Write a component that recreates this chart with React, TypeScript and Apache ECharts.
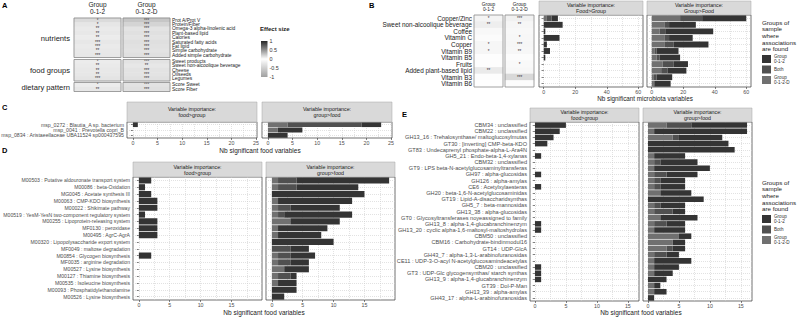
import React, { useEffect, useRef } from "react";
import * as echarts from "echarts";

const FONT = "'Liberation Sans', Arial, Helvetica, sans-serif";

// ---------- Panel A: effect sizes (nutrients / food groups / dietary pattern)
const groupHeaders = ["Group\n0-1-2", "Group\n0-1-2-D"];

const nutrientRows = [
  "Prot A/Prot V",
  "Protein/Fiber",
  "Omega-3 alpha-linolenic acid",
  "Plant-based lipid",
  "Calories",
  "Saturated fatty acids",
  "Fat lipid",
  "Simple carbohydrate",
  "Added simple carbohydrate",
];
const nutrientEffect012 = [-0.38, -0.26, -0.22, -0.24, -0.2, -0.25, -0.22, -0.24, -0.25];
const nutrientEffect012D = [-0.6, -0.45, -0.3, -0.33, -0.3, -0.34, -0.32, -0.3, -0.33];
const nutrientStars012 = ["*", "*", "**", "**", "**", "***", "***", "**", "***"];
const nutrientStars012D = ["***", "***", "***", "***", "***", "***", "***", "***", "***"];

const foodGroupRows = ["Sweet products", "Sweet non-alcoolique beverage", "Cheese", "Oilseeds", "Legumes"];
const foodGroupEffect012 = [-0.2, -0.22, -0.24, -0.25, -0.28];
const foodGroupEffect012D = [-0.3, -0.25, -0.3, -0.3, -0.33];
const foodGroupStars012 = ["*", "**", "**", "**", "***"];
const foodGroupStars012D = ["***", "**", "***", "***", "***"];

const dietRows = ["Score Sweet", "Score Fiber"];
const dietEffect012 = [-0.2, -0.25];
const dietEffect012D = [-0.3, -0.33];
const dietStars012 = ["*", "**"];
const dietStars012D = ["***", "***"];

const effectTicks = [1, 0.5, 0, -0.5, -1];
const effectColors = ["#a0a0a0", "#ffffff", "#262626"]; // -1, 0, 1

// ---------- Panel B: microbiota associations
const bRows = [
  "Copper/Zinc",
  "Sweet non-alcoolique beverage",
  "Coffee",
  "Vitamin C",
  "Copper",
  "Vitamin B9",
  "Vitamin B5",
  "Fruits",
  "Added plant-based lipid",
  "Vitamin B3",
  "Vitamin B6",
];
const bEffect012 = [-0.12, -0.18, -0.07, -0.04, -0.1, -0.1, -0.02, -0.02, -0.22, -0.02, -0.01];
const bEffect012D = [-0.15, -0.1, -0.07, -0.08, -0.1, -0.08, -0.03, -0.06, -0.08, -0.4, -0.03];
const bStars012 = ["*", "**", "", "", "*", "*", "", "", "**", "", ""];
const bStars012D = ["***", "**", "", "*", "***", "**", "", "*", "", "***", ""];

const bFoodGroup_D = [2, 0, 0, 0, 0, 0, 0, 0, 0, 0, 0];
const bFoodGroup_Both = [3, 0, 0, 0, 0, 0, 0, 0, 0, 0, 0];
const bFoodGroup_012 = [4, 12, 1, 10, 2, 4, 1, 0, 0, 0, 0];
const bGroupFood_D = [18, 8, 5, 8, 8, 2, 3, 7, 6, 1, 1];
const bGroupFood_Both = [14, 3, 4, 3, 6, 1, 2, 7, 4, 2, 1];
const bGroupFood_012 = [28, 17, 30, 15, 22, 14, 13, 9, 12, 10, 10];

const microbiotaTicks = [0, 20, 40, 60];
const microbiotaMinor = [10, 30, 50];

// ---------- Panel C: species
const cRows = [
  "msp_0272 : Blautia_A sp. bacterium",
  "msp_0041 : Prevotella copri_B",
  "msp_0834 : Aristaeellaceae UBA11524 sp000437595",
];
const cFoodGroup_D = [0, 0, 0];
const cFoodGroup_Both = [0, 0, 0];
const cFoodGroup_012 = [1, 0, 0];
const cGroupFood_D = [4, 2, 0];
const cGroupFood_Both = [15, 0, 0];
const cGroupFood_012 = [4, 5, 4];
const cTicks = [0, 5, 10, 15, 20, 25];
const cMinor = [2.5, 7.5, 12.5, 17.5, 22.5];

// ---------- Panel D: modules
const dRows = [
  "M00503 : Putative aldouronate transport system",
  "M00086 : beta-Oxidation",
  "MG0045 : Acetate synthesis III",
  "M00063 : CMP-KDO biosynthesis",
  "M00022 : Shikimate pathway",
  "M00519 : YesM-YesN two-component regulatory system",
  "M00255 : Lipoprotein-releasing system",
  "MF0130 : peroxidase",
  "M00495 : AgrC-AgrA",
  "M00320 : Lipopolysaccharide export system",
  "MF0049 : maltose degradation",
  "M00854 : Glycogen biosynthesis",
  "MF0035 : arginine degradation",
  "M00527 : Lysine biosynthesis",
  "M00127 : Thiamine biosynthesis",
  "M00535 : Isoleucine biosynthesis",
  "M00093 : Phosphatidylethanolamine",
  "M00526 : Lysine biosynthesis",
];
const dFoodGroup_D = [0, 0, 0, 0, 0, 0, 0, 0, 0, 0, 0, 0, 0, 0, 0, 0, 0, 0];
const dFoodGroup_Both = [0, 0, 0, 0, 0, 0, 0, 0, 0, 0, 0, 0, 0, 0, 0, 0, 0, 0];
const dFoodGroup_012 = [2, 1, 2, 3, 3, 1, 3, 3, 3, 0, 0, 2, 0, 0, 0, 0, 0, 0];
const dGroupFood_D = [1, 1, 0, 1, 1, 1, 3, 1, 1, 0, 0, 1, 1, 2, 1, 1, 0, 0];
const dGroupFood_Both = [3, 3, 0, 0, 2, 1, 0, 0, 0, 0, 3, 2, 2, 0, 2, 0, 0, 0];
const dGroupFood_012 = [15, 10, 15, 12, 8, 11, 8, 8, 7, 10, 3, 4, 3, 4, 1, 3, 4, 2];
const dTicks = [0, 5, 10, 15];
const dMinor = [2.5, 7.5, 12.5, 17.5];

// ---------- Panel E: CAZymes
const eRows = [
  "CBM34 : unclassified",
  "CBM22 : unclassified",
  "GH13_16 : Trehalosynthase/ maltoglucosylmutas",
  "GT30 : [inverting] CMP-beta-KDO",
  "GT83 : Undecaprenyl phosphate-alpha-L-Ara4N",
  "GH5_21 : Endo-beta-1,4-xylanas",
  "CBM32 : unclassified",
  "GT9 : LPS beta-N-acetylglucosaminyltransferas",
  "GH97 : alpha-glucosidas",
  "GH126 : alpha-amylas",
  "CE6 : Acetylxylaesteras",
  "GH20 : beta-1,6-N-acetylglucosaminidas",
  "GT19 : Lipid-A-disaccharidsynthas",
  "GH5_7 : beta-mannosidas",
  "GH13_38 : alpha-glucosidas",
  "GT0 : Glycosyltransferases noyeassigned to family",
  "GH13_8 : alpha-1,4-glucabranchinenzym",
  "GH13_20 : cyclic alpha-1,6-maltosyl-maltoshydrolas",
  "CBM50 : unclassified",
  "CBM16 : Carbohydrate-bindinmodul16",
  "GT14 : UDP-GlcA",
  "GH43_7 : alpha-1,3-L-arabinofuranosidas",
  "CE11 : UDP-3-O-acyl N-acetylglucosamindeacetylas",
  "CBM20 : unclassified",
  "GT3 : UDP-Glc glycogensynthas/ starch synthas",
  "GH13_9 : alpha-1,4-glucabranchinenzym",
  "GT39 : Dol-P-Man",
  "GH13_39 : alpha-amylas",
  "GH43_17 : alpha-L-arabinofuranosidas",
];
const eFoodGroup_D = new Array(29).fill(0);
const eFoodGroup_Both = new Array(29).fill(0);
const eFoodGroup_012 = [5, 4, 3, 2, 0, 1, 0, 0, 1, 0, 1, 0, 0, 0, 0, 0, 1, 1, 0, 0, 0, 0, 0, 1, 1, 1, 0, 0, 0];
const eGroupFood_D = [3, 1, 4, 0, 0, 1, 1, 1, 1, 1, 1, 2, 0, 1, 1, 2, 1, 1, 5, 4, 3, 1, 1, 1, 1, 0, 1, 1, 0];
const eGroupFood_Both = [4, 0, 1, 0, 0, 0, 1, 0, 2, 1, 1, 0, 0, 1, 3, 0, 2, 0, 0, 0, 1, 2, 0, 0, 0, 0, 0, 0, 0];
const eGroupFood_012 = [9, 15, 7, 13, 14, 5, 6, 9, 5, 4, 4, 5, 9, 4, 2, 6, 3, 5, 2, 2, 2, 2, 6, 4, 3, 3, 1, 2, 1];
const eTicks = [0, 5, 10, 15];
const eMinor = [2.5, 7.5, 12.5];

// stacking order from zero outward
const segNames = ["Group 0-1-2-D", "Both", "Group 0-1-2"];
const segColors = ["#707070", "#505050", "#343434"];
const legendOrder = ["Group 0-1-2", "Both", "Group 0-1-2-D"];

type Rect = { left: number; top: number; width: number; height: number };

function buildOption() {
  const grid: any[] = [];
  const xAxis: any[] = [];
  const yAxis: any[] = [];
  const series: any[] = [];
  const graphic: any[] = [];
  const heatSeries: number[] = [];

  const gridLine = { color: "#cfcfcf", width: 0.6, type: [1, 1] };

  const addGrid = (r: Rect, border: boolean) => {
    grid.push({
      left: r.left,
      top: r.top,
      width: r.width,
      height: r.height,
      show: border,
      borderColor: "#333",
      borderWidth: 0.7,
      backgroundColor: "#fff",
      containLabel: false,
      outerBoundsMode: "none",
    });
    return grid.length - 1;
  };

  const text = (x: number, y: number, t: string, size: number, extra: any = {}) => {
    graphic.push({
      type: "text",
      x,
      y,
      silent: true,
      z: 120,
      style: {
        text: t,
        fontSize: size,
        fontFamily: FONT,
        fill: "#1a1a1a",
        align: "left",
        verticalAlign: "middle",
        ...extra,
      },
    });
  };

  const addHeat = (
    r: Rect,
    rows: string[],
    effects: number[],
    stars: string[],
    header: string | null,
    labelSide: "left" | "right" | null,
    headerFont: number,
    labelFont: number
  ) => {
    const gi = addGrid(r, false);
    xAxis.push({
      type: "category",
      gridIndex: gi,
      data: [header ?? ""],
      position: "top",
      axisLine: { show: false },
      axisTick: { show: false },
      splitLine: { show: false },
      axisLabel: {
        show: !!header,
        interval: 0,
        fontSize: headerFont,
        lineHeight: headerFont + 0.5,
        margin: 3,
        color: "#1a1a1a",
        fontFamily: FONT,
      },
    });
    const xi = xAxis.length - 1;
    yAxis.push({
      type: "category",
      gridIndex: gi,
      data: rows,
      inverse: true,
      position: labelSide ?? "left",
      axisLine: { show: false },
      axisTick: { show: false },
      splitLine: { show: false },
      axisLabel: {
        show: !!labelSide,
        interval: 0,
        fontSize: labelFont,
        lineHeight: labelFont,
        margin: 2,
        color: "#1a1a1a",
        fontFamily: FONT,
      },
    });
    const yi = yAxis.length - 1;
    series.push({
      type: "heatmap",
      xAxisIndex: xi,
      yAxisIndex: yi,
      data: effects.map((v, i) => [0, i, v]),
      silent: true,
      emphasis: { disabled: true },
      label: {
        show: true,
        formatter: (p: any) => stars[p.dataIndex],
        fontSize: 4.5,
        color: "#333",
        fontFamily: FONT,
      },
    });
    heatSeries.push(series.length - 1);
    graphic.push({
      type: "rect",
      silent: true,
      z: 110,
      shape: { x: r.left, y: r.top, width: r.width, height: r.height },
      style: { fill: "none", stroke: "#8a8a8a", lineWidth: 0.8 },
    });
  };

  const addBarFacet = (
    r: Rect,
    rows: string[],
    segs: number[][],
    range: [number, number],
    majors: number[],
    minors: number[],
    firstPanel: boolean,
    showLabels: boolean,
    labelFont: number,
    strip: string,
    stripTop: number
  ) => {
    const gi = addGrid(r, true);
    xAxis.push({
      type: "value",
      gridIndex: gi,
      min: range[0],
      max: range[1],
      position: "bottom",
      axisLine: { show: false },
      axisTick: { show: true, length: 2, customValues: majors, lineStyle: { color: "#333", width: 0.6 } },
      axisLabel: { customValues: majors, fontSize: 5.3, color: "#4d4d4d", margin: 2.5, fontFamily: FONT },
      splitLine: { show: true, lineStyle: gridLine },
    });
    const xi = xAxis.length - 1;
    xAxis.push({
      type: "value",
      gridIndex: gi,
      min: range[0],
      max: range[1],
      position: "top",
      axisLine: { show: false },
      axisTick: { show: false, customValues: minors },
      axisLabel: { show: false },
      splitLine: { show: true, lineStyle: gridLine },
    });
    yAxis.push({
      type: "category",
      gridIndex: gi,
      data: rows,
      inverse: true,
      axisLine: { show: false },
      axisTick: {
        show: firstPanel,
        interval: 0,
        length: 2,
        alignWithLabel: true,
        lineStyle: { color: "#333", width: 0.6 },
      },
      axisLabel: {
        show: showLabels,
        interval: 0,
        fontSize: labelFont,
        color: "#4d4d4d",
        margin: 3,
        fontFamily: FONT,
      },
      splitLine: { show: true, interval: 0, alignWithLabel: true, lineStyle: gridLine },
    });
    const yi = yAxis.length - 1;
    segs.forEach((data, k) => {
      series.push({
        type: "bar",
        name: segNames[k],
        xAxisIndex: xi,
        yAxisIndex: yi,
        stack: "facet" + gi,
        data,
        barCategoryGap: "10%",
        silent: true,
        itemStyle: { color: segColors[k] },
      });
    });
    graphic.push({
      type: "rect",
      silent: true,
      z: 100,
      shape: { x: r.left, y: stripTop, width: r.width, height: r.top - stripTop },
      style: { fill: "#d9d9d9", stroke: "#a6a6a6", lineWidth: 0.5 },
    });
    text(r.left + r.width / 2, (stripTop + r.top) / 2, strip, 5.3, {
      align: "center",
      lineHeight: 6,
      fill: "#1a1a1a",
    });
  };

  // ---- panel letters
  const letter = { fontWeight: "bold", fill: "#000" };
  text(2, 5, "A", 7.5, letter);
  text(369, 5, "B", 7.5, letter);
  text(2, 107, "C", 7.5, letter);
  text(2, 150, "D", 7.5, letter);
  text(402, 114, "E", 7.5, letter);

  // ---- A
  const aCol1 = 74;
  const aCol2 = 123;
  const aW = 47;
  const aLab = 4.9;
  addHeat({ left: aCol1, top: 18, width: aW, height: 39.5 }, nutrientRows, nutrientEffect012, nutrientStars012, groupHeaders[0], null, 6.5, aLab);
  addHeat({ left: aCol2, top: 18, width: aW, height: 39.5 }, nutrientRows, nutrientEffect012D, nutrientStars012D, groupHeaders[1], "right", 6.5, aLab);
  addHeat({ left: aCol1, top: 59.5, width: aW, height: 21.5 }, foodGroupRows, foodGroupEffect012, foodGroupStars012, null, null, 6.5, aLab);
  addHeat({ left: aCol2, top: 59.5, width: aW, height: 21.5 }, foodGroupRows, foodGroupEffect012D, foodGroupStars012D, null, "right", 6.5, aLab);
  addHeat({ left: aCol1, top: 82.5, width: aW, height: 9 }, dietRows, dietEffect012, dietStars012, null, null, 6.5, aLab);
  addHeat({ left: aCol2, top: 82.5, width: aW, height: 9 }, dietRows, dietEffect012D, dietStars012D, null, "right", 6.5, aLab);
  text(70, 38, "nutrients", 7.6, { align: "right", fill: "#222" });
  text(70, 70.5, "food groups", 7.6, { align: "right", fill: "#222" });
  text(70, 87, "dietary pattern", 7.6, { align: "right", fill: "#222" });

  // effect size key
  const keyTop = 41;
  const keyH = 36;
  text(260, 29, "Effect size", 6, { fontWeight: "bold" });
  graphic.push({
    type: "rect",
    silent: true,
    shape: { x: 261, y: keyTop, width: 6.5, height: keyH },
    style: {
      fill: new echarts.graphic.LinearGradient(0, 0, 0, 1, [
        { offset: 0, color: effectColors[2] },
        { offset: 0.5, color: effectColors[1] },
        { offset: 1, color: effectColors[0] },
      ]),
    },
  });
  effectTicks.forEach((v) => {
    const y = keyTop + ((1 - v) / 2) * keyH;
    text(269.5, y, String(v), 5.4, { fill: "#333" });
  });

  // ---- B
  addHeat({ left: 474, top: 15, width: 29, height: 72 }, bRows, bEffect012, bStars012, groupHeaders[0], "left", 4.8, 6.4);
  addHeat({ left: 505, top: 15, width: 29, height: 72 }, bRows, bEffect012D, bStars012D, groupHeaders[1], null, 4.8, 6.4);
  addBarFacet({ left: 539, top: 15, width: 104, height: 72 }, bRows,
    [bFoodGroup_D, bFoodGroup_Both, bFoodGroup_012], [-3, 63], microbiotaTicks, microbiotaMinor, true, false, 5,
    "Variable importance:\nFood>Group", 1);
  addBarFacet({ left: 647, top: 15, width: 104, height: 72 }, bRows,
    [bGroupFood_D, bGroupFood_Both, bGroupFood_012], [-3, 63], microbiotaTicks, microbiotaMinor, false, false, 5,
    "Variable importance:\nGroup>Food", 1);
  text(645, 98.5, "Nb significant microbiota variables", 6.3, { align: "center", fill: "#1a1a1a" });

  // ---- C
  addBarFacet({ left: 127, top: 122, width: 130, height: 16 }, cRows,
    [cFoodGroup_D, cFoodGroup_Both, cFoodGroup_012], [-1.2, 25.2], cTicks, cMinor, true, true, 5.2,
    "Variable importance:\nfood>group", 102);
  addBarFacet({ left: 262, top: 122, width: 130, height: 16 }, cRows,
    [cGroupFood_D, cGroupFood_Both, cGroupFood_012], [-1.2, 25.2], cTicks, cMinor, false, false, 5.2,
    "Variable importance:\ngroup>food", 102);
  text(260, 150, "Nb significant food variables", 6.5, { align: "center" });

  // ---- D
  addBarFacet({ left: 133, top: 177, width: 129, height: 123 }, dRows,
    [dFoodGroup_D, dFoodGroup_Both, dFoodGroup_012], [-0.95, 19.95], dTicks, dMinor, true, true, 5.1,
    "Variable importance:\nfood>group", 162);
  addBarFacet({ left: 266, top: 177, width: 129, height: 123 }, dRows,
    [dGroupFood_D, dGroupFood_Both, dGroupFood_012], [-0.95, 19.95], dTicks, dMinor, false, false, 5.1,
    "Variable importance:\ngroup>food", 162);
  text(264, 312, "Nb significant food variables", 6.5, { align: "center" });

  // ---- E
  addBarFacet({ left: 530, top: 122, width: 109, height: 179 }, eRows,
    [eFoodGroup_D, eFoodGroup_Both, eFoodGroup_012], [-0.8, 16.8], eTicks, eMinor, true, true, 5.6,
    "Variable importance:\nfood>group", 108);
  addBarFacet({ left: 643, top: 122, width: 109, height: 179 }, eRows,
    [eGroupFood_D, eGroupFood_Both, eGroupFood_012], [-0.8, 16.8], eTicks, eMinor, false, false, 5.6,
    "Variable importance:\ngroup>food", 108);
  text(641, 312, "Nb significant food variables", 6.5, { align: "center" });

  // ---- legends for the stacked bars
  const legendTitle = "Groups of\nsample\nwhere\nassociations\nare found";
  text(762, 19, legendTitle, 6.2, { verticalAlign: "top", lineHeight: 6.6 });
  text(762, 179, legendTitle, 6.2, { verticalAlign: "top", lineHeight: 6.6 });
  const legendBase = {
    orient: "vertical",
    left: 762,
    data: legendOrder,
    icon: "rect",
    itemWidth: 9,
    itemHeight: 8,
    itemGap: 1.5,
    padding: 0,
    selectedMode: false,
    formatter: (n: string) => (n === "Both" ? n : n.replace(" ", "\n")),
    textStyle: { fontSize: 4.6, lineHeight: 5, color: "#333", fontFamily: FONT, padding: [0, 0, 0, -2] },
  };

  return {
    animation: false,
    backgroundColor: "#fff",
    textStyle: { fontFamily: FONT },
    grid,
    xAxis,
    yAxis,
    series,
    graphic,
    legend: [
      { ...legendBase, top: 54 },
      { ...legendBase, top: 214 },
    ],
    visualMap: {
      type: "continuous",
      show: false,
      min: -1,
      max: 1,
      dimension: 2,
      seriesIndex: heatSeries,
      inRange: { color: effectColors },
    },
  };
}

export default function App() {
  const ref = useRef<HTMLDivElement>(null);
  useEffect(() => {
    if (!ref.current) return;
    const chart = echarts.init(ref.current, undefined, { renderer: "svg" });
    chart.setOption(buildOption() as any);
    return () => chart.dispose();
  }, []);
  return (
    <div
      ref={ref}
      style={{ position: "absolute", left: 0, top: 0, width: 800, height: 317, background: "#fff" }}
    />
  );
}
